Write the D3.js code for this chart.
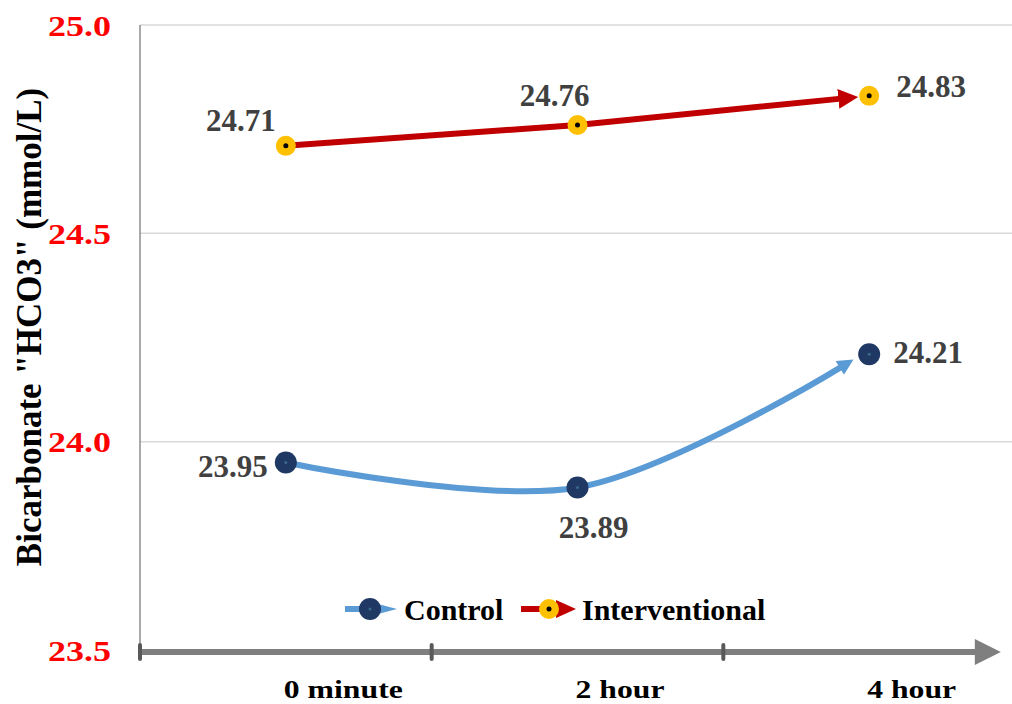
<!DOCTYPE html>
<html>
<head>
<meta charset="utf-8">
<script src="https://cdn.jsdelivr.net/npm/d3@7"></script>
<style>
  html, body { margin: 0; padding: 0; background: #fff; }
  svg { display: block; }
</style>
</head>
<body>
<svg id="chart" width="1012" height="704"></svg>
<script>
// Time points and bicarbonate readings (mmol/L)
const categories = ["0 minute", "2 hour", "4 hour"];
const controlValues = [23.95, 23.89, 24.21];
const interventionalValues = [24.71, 24.76, 24.83];
const yTicks = [23.5, 24.0, 24.5, 25.0];
const seriesNames = ["Control", "Interventional"];

(function () {
const svg = d3.select("#chart");
const W = 1012;
const plotLeft = 140, plotTop = 25, plotBottom = 650, axisEnd = 1015;

const serif = "Liberation Serif, Times New Roman, serif";

const x = d3.scaleBand().domain(categories).range([plotLeft, axisEnd]);
const y = d3.scaleLinear().domain([23.5, 25.0]).range([plotBottom, plotTop]);
const cx = d => x(d) + x.bandwidth() / 2;

const defs = svg.append("defs");
function arrow(id, color, w, h) {
  defs.append("marker")
    .attr("id", id)
    .attr("viewBox", "0 0 10 10")
    .attr("refX", 1.5).attr("refY", 5)
    .attr("markerUnits", "userSpaceOnUse")
    .attr("markerWidth", w).attr("markerHeight", h)
    .attr("orient", "auto")
    .append("path").attr("d", "M0,0 L10,5 L0,10 Z").attr("fill", color);
}
arrow("arrRed", "#C00000", 20, 20);
arrow("arrBlue", "#5B9BD5", 22, 16);
defs.append("marker")
  .attr("id", "arrAxis")
  .attr("viewBox", "0 0 10 10")
  .attr("refX", 2).attr("refY", 5)
  .attr("markerUnits", "userSpaceOnUse")
  .attr("markerWidth", 38).attr("markerHeight", 26)
  .attr("orient", "auto")
  .append("path").attr("d", "M0,0 L10,5 L0,10 Z").attr("fill", "#7f7f7f");

// Gridlines
svg.append("g")
  .selectAll("line").data(yTicks.filter(t => t > 23.5)).join("line")
  .attr("x1", plotLeft).attr("x2", W)
  .attr("y1", d => y(d)).attr("y2", d => y(d))
  .attr("stroke", "#d9d9d9").attr("stroke-width", 1.5);

// Vertical axis line
svg.append("line")
  .attr("x1", plotLeft).attr("x2", plotLeft)
  .attr("y1", plotTop).attr("y2", plotBottom)
  .attr("stroke", "#8c8c8c").attr("stroke-width", 1.5);

// Y tick labels (slightly widened glyphs)
svg.append("g")
  .selectAll("text").data(yTicks).join("text")
  .attr("transform", d => `translate(111,${y(d)}) scale(1.2,1)`)
  .attr("dy", "0.35em")
  .attr("text-anchor", "end")
  .attr("font-family", serif).attr("font-weight", "bold")
  .attr("font-size", 30).attr("fill", "#ff0000")
  .text(d => d.toFixed(1));

// Y title
svg.append("text")
  .attr("transform", `translate(41,327) rotate(-90)`)
  .attr("text-anchor", "middle")
  .attr("font-family", serif).attr("font-weight", "bold")
  .attr("font-size", 35).attr("fill", "#000")
  .text('Bicarbonate "HCO3" (mmol/L)');

// Horizontal axis with arrow
svg.append("line")
  .attr("x1", plotLeft).attr("x2", 980)
  .attr("y1", plotBottom + 2).attr("y2", plotBottom + 2)
  .attr("stroke", "#7f7f7f").attr("stroke-width", 6)
  .attr("marker-end", "url(#arrAxis)");
const bandEdges = categories.map(c => x(c));
svg.append("g")
  .selectAll("line").data(bandEdges).join("line")
  .attr("x1", d => d).attr("x2", d => d)
  .attr("y1", plotBottom - 5).attr("y2", plotBottom + 9)
  .attr("stroke", "#595959").attr("stroke-width", 4)
  .attr("stroke-linecap", "round");

// X labels (slightly widened glyphs)
svg.append("g")
  .selectAll("text").data(categories).join("text")
  .attr("transform", d => `translate(${cx(d) - 2},698) scale(1.22,1)`)
  .attr("text-anchor", "start")
  .attr("font-family", serif).attr("font-weight", "bold")
  .attr("font-size", 26).attr("fill", "#000")
  .text(d => d);

// Series lines
const ctrlPts = categories.map((c, i) => [cx(c), y(controlValues[i])]);
const intPts = categories.map((c, i) => [cx(c), y(interventionalValues[i])]);

// Stop each line slightly before the final marker so the arrowhead touches it
function trimEnd(pts, gap) {
  const out = pts.slice(0, -1);
  const a = pts[pts.length - 2], b = pts[pts.length - 1];
  const dx = b[0] - a[0], dy = b[1] - a[1];
  const len = Math.hypot(dx, dy);
  out.push([b[0] - dx / len * gap, b[1] - dy / len * gap]);
  return out;
}

const smooth = d3.line().curve(d3.curveCatmullRom.alpha(0.5));
const straight = d3.line();

svg.append("path")
  .attr("d", smooth(trimEnd(ctrlPts, 30)))
  .attr("fill", "none").attr("stroke", "#5B9BD5").attr("stroke-width", 6)
  .attr("marker-end", "url(#arrBlue)");

svg.append("path")
  .attr("d", straight(trimEnd(intPts, 28)))
  .attr("fill", "none").attr("stroke", "#C00000").attr("stroke-width", 6)
  .attr("marker-end", "url(#arrRed)");

// Markers
function ctrlMarker(g, px, py) {
  g.append("circle").attr("cx", px).attr("cy", py).attr("r", 11).attr("fill", "#1F3864");
  g.append("circle").attr("cx", px).attr("cy", py).attr("r", 1.5).attr("fill", "#3b6b8a");
}
function intMarker(g, px, py) {
  g.append("circle").attr("cx", px).attr("cy", py).attr("r", 10).attr("fill", "#FFC000");
  g.append("circle").attr("cx", px).attr("cy", py).attr("r", 2.5).attr("fill", "#000");
}
const mk = svg.append("g");
ctrlPts.forEach(p => ctrlMarker(mk, p[0], p[1]));
intPts.forEach(p => intMarker(mk, p[0], p[1]));

// Data labels
const labelStyle = sel => sel
  .attr("font-family", serif).attr("font-weight", "bold")
  .attr("font-size", 31).attr("fill", "#404040");
const ctrlOffsets = [[-53, 4], [16, 40], [59, -2]];
const intOffsets = [[-45, -26], [-23, -30], [62, -10]];
const lbl = svg.append("g");
controlValues.forEach((v, i) => {
  lbl.append("text").call(labelStyle)
    .attr("x", ctrlPts[i][0] + ctrlOffsets[i][0]).attr("y", ctrlPts[i][1] + ctrlOffsets[i][1])
    .attr("dy", "0.35em").attr("text-anchor", "middle").text(v.toFixed(2));
});
interventionalValues.forEach((v, i) => {
  lbl.append("text").call(labelStyle)
    .attr("x", intPts[i][0] + intOffsets[i][0]).attr("y", intPts[i][1] + intOffsets[i][1])
    .attr("dy", "0.35em").attr("text-anchor", "middle").text(v.toFixed(2));
});

// Legend
const lg = svg.append("g").attr("transform", "translate(0,609)");
lg.append("line").attr("x1", 345).attr("x2", 380).attr("y1", 0).attr("y2", 0)
  .attr("stroke", "#5B9BD5").attr("stroke-width", 6);
lg.append("path").attr("d", "M378,-5 L397,0 L378,5 Z").attr("fill", "#5B9BD5");
ctrlMarker(lg, 370, 0);
lg.append("text").call(labelStyle).attr("fill", "#000").attr("font-size", 30)
  .attr("x", 404).attr("y", 0).attr("dy", "0.35em").text(seriesNames[0]);

lg.append("line").attr("x1", 521).attr("x2", 558).attr("y1", 0).attr("y2", 0)
  .attr("stroke", "#C00000").attr("stroke-width", 6);
lg.append("path").attr("d", "M556,-9 L576,0 L556,9 Z").attr("fill", "#C00000");
intMarker(lg, 549, 0);
lg.append("text").call(labelStyle).attr("fill", "#000").attr("font-size", 30)
  .attr("x", 582).attr("y", 0).attr("dy", "0.35em").text(seriesNames[1]);
})();
</script>
</body>
</html>
